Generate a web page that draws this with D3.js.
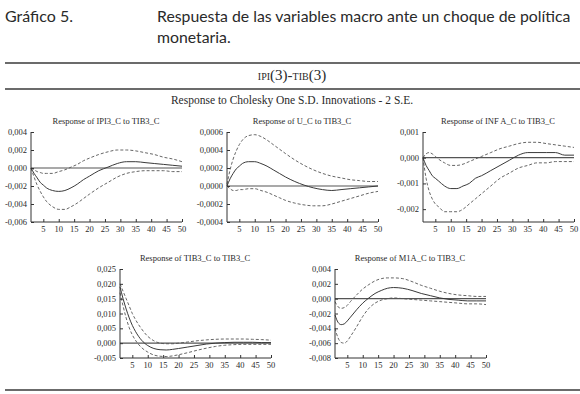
<!DOCTYPE html>
<html>
<head>
<meta charset="utf-8">
<script src="https://cdn.jsdelivr.net/npm/d3@7"></script>
<style>
  body { margin: 0; background: #fff; }
  svg text { fill: #2a2a2a; }
</style>
</head>
<body>
<div id="chart"></div>
<script>
const periods = [1, 2, 3, 4, 5, 6, 8, 10, 12, 14, 16, 18, 20, 23, 26, 29, 32, 35, 38, 41, 44, 47, 50];
const xTicks = [5, 10, 15, 20, 25, 30, 35, 40, 45, 50];

const titles = ['Response of IPI3_C to TIB3_C', 'Response of U_C to TIB3_C', 'Response of INF A_C to TIB3_C',
  'Response of TIB3_C to TIB3_C', 'Response of M1A_C to TIB3_C'];

// IPI3
const ipiResp  = [0, -0.0006, -0.0011, -0.0016, -0.0019, -0.0022, -0.0025, -0.0026, -0.0025, -0.0022, -0.0018, -0.0013, -0.0009, -0.0003, 0.0001, 0.0005, 0.0007, 0.0007, 0.0006, 0.0005, 0.0004, 0.0003, 0.0002];
const ipiUpper = [0, -0.0002, -0.0004, -0.0005, -0.0006, -0.0006, -0.0006, -0.0004, -0.0002, 0.0001, 0.0004, 0.0008, 0.0011, 0.0015, 0.0018, 0.0020, 0.0020, 0.0019, 0.0017, 0.0015, 0.0012, 0.0010, 0.0007];
const ipiLower = [0, -0.0010, -0.0019, -0.0026, -0.0032, -0.0037, -0.0043, -0.0046, -0.0046, -0.0043, -0.0039, -0.0034, -0.0029, -0.0022, -0.0016, -0.0010, -0.0006, -0.0004, -0.0003, -0.0003, -0.0003, -0.0004, -0.0004];
const ipiTicks = [-0.006, -0.004, -0.002, 0, 0.002, 0.004];

// U
const uResp  = [0, 0.00008, 0.00014, 0.00019, 0.00022, 0.00025, 0.00027, 0.00027, 0.00025, 0.00022, 0.00018, 0.00014, 0.00010, 0.00005, 0.00001, -0.00002, -0.00004, -0.00005, -0.00004, -0.00003, -0.00002, -0.00001, 0];
const uUpper = [0.00002, 0.00018, 0.00030, 0.00039, 0.00046, 0.00051, 0.00056, 0.00057, 0.00055, 0.00051, 0.00046, 0.00041, 0.00036, 0.00029, 0.00023, 0.00018, 0.00014, 0.00011, 0.00009, 0.00007, 0.00006, 0.00005, 0.00005];
const uLower = [0, -0.00003, -0.00005, -0.00005, -0.00004, -0.00004, -0.00003, -0.00003, -0.00005, -0.00007, -0.00010, -0.00013, -0.00016, -0.00019, -0.00021, -0.00022, -0.00022, -0.00020, -0.00017, -0.00014, -0.00011, -0.00008, -0.00006];
const uTicks = [-0.0004, -0.0002, 0, 0.0002, 0.0004, 0.0006];

// INF A
const infResp  = [0, -0.0003, -0.0005, -0.0007, -0.0008, -0.0009, -0.0011, -0.0012, -0.0012, -0.0011, -0.0010, -0.0008, -0.0007, -0.0005, -0.0003, -0.0001, 0.0001, 0.0002, 0.0002, 0.0002, 0.0002, 0.0001, 0.0001];
const infUpper = [0, 0.00015, 0.0002, 0.00015, 0.00005, -0.00005, -0.0002, -0.0003, -0.0003, -0.00025, -0.00015, -0.00005, 0.00005, 0.0002, 0.00035, 0.00045, 0.00055, 0.0006, 0.0006, 0.00055, 0.0005, 0.00045, 0.0004];
const infLower = [0, -0.0008, -0.0013, -0.0016, -0.0018, -0.0019, -0.0021, -0.0021, -0.0021, -0.0020, -0.0018, -0.0016, -0.0014, -0.0011, -0.0008, -0.0006, -0.0004, -0.0003, -0.0002, -0.0002, -0.00015, -0.00015, -0.00015];
const infTicks = [-0.002, -0.001, 0, 0.001];

// TIB3
const tibResp  = [0.0190, 0.0150, 0.0115, 0.0085, 0.0060, 0.0040, 0.0010, -0.0008, -0.0018, -0.0022, -0.0023, -0.0021, -0.0018, -0.0013, -0.0008, -0.0003, 0, 0.0002, 0.0003, 0.0003, 0.0003, 0.0002, 0.0002];
const tibUpper = [0.0200, 0.0175, 0.0150, 0.0125, 0.0100, 0.0080, 0.0048, 0.0023, 0.0008, 0, -0.0002, -0.0002, 0, 0.0004, 0.0008, 0.0011, 0.0013, 0.0014, 0.0014, 0.0014, 0.0013, 0.0012, 0.0010];
const tibLower = [0.0170, 0.0125, 0.0085, 0.0052, 0.0028, 0.0010, -0.0015, -0.0030, -0.0040, -0.0044, -0.0045, -0.0043, -0.0039, -0.0032, -0.0024, -0.0017, -0.0011, -0.0007, -0.0005, -0.0004, -0.0004, -0.0004, -0.0004];
const tibTicks = [-0.005, 0, 0.005, 0.010, 0.015, 0.020, 0.025];

// M1A
const m1Resp  = [-0.0022, -0.0032, -0.0035, -0.0034, -0.0030, -0.0025, -0.0015, -0.0006, 0.0001, 0.0007, 0.0011, 0.0014, 0.0015, 0.0014, 0.0011, 0.0007, 0.0004, 0.0001, -0.0001, -0.0002, -0.0003, -0.0003, -0.0003];
const m1Upper = [-0.0004, -0.0011, -0.0013, -0.0012, -0.0009, -0.0004, 0.0005, 0.0013, 0.0019, 0.0024, 0.0027, 0.0028, 0.0028, 0.0027, 0.0023, 0.0018, 0.0014, 0.0010, 0.0007, 0.0005, 0.0004, 0.0003, 0.0003];
const m1Lower = [-0.0040, -0.0053, -0.0059, -0.0060, -0.0057, -0.0051, -0.0038, -0.0024, -0.0013, -0.0006, -0.0002, 0, 0.0001, 0, -0.0001, -0.0002, -0.0003, -0.0004, -0.0005, -0.0006, -0.0007, -0.0007, -0.0008];
const m1Ticks = [-0.008, -0.006, -0.004, -0.002, 0, 0.002, 0.004];

const W = 580, H = 394;
const svg = d3.select('#chart').append('svg').attr('width', W).attr('height', H)
  .style('font-family', '"Liberation Serif", "Times New Roman", serif');

const loc = d3.formatLocale({ decimal: ',', thousands: '.', grouping: [3], currency: ['', ''], minus: '-' });

// header
const sans = 'Lato, "Noto Sans", sans-serif';
svg.append('text').attr('x', 5).attr('y', 22).style('font-family', sans).style('font-size', '16px')
  .text('Gráfico 5.');
svg.append('text').attr('x', 157).attr('y', 22).style('font-family', sans).style('font-size', '15.8px')
  .text('Respuesta de las variables macro ante un choque de política');
svg.append('text').attr('x', 157).attr('y', 43).style('font-family', sans).style('font-size', '15.8px')
  .text('monetaria.');

const rule = y => svg.append('line').attr('x1', 5).attr('x2', 580).attr('y1', y).attr('y2', y)
  .attr('stroke', '#3a3a3a').attr('stroke-width', 1.5);
rule(63); rule(89); rule(390);

const sub = svg.append('text').attr('x', 292).attr('y', 80).attr('text-anchor', 'middle');
sub.append('tspan').style('font-size', '10px').text('IPI');
sub.append('tspan').style('font-size', '15px').text('(3)-');
sub.append('tspan').style('font-size', '10px').text('TIB');
sub.append('tspan').style('font-size', '15px').text('(3)');

svg.append('text').attr('x', 292).attr('y', 104).attr('text-anchor', 'middle').style('font-size', '11.5px')
  .text('Response to Cholesky One S.D. Innovations - 2 S.E.');

const panels = [
  { title: titles[0], resp: ipiResp, upper: ipiUpper, lower: ipiLower, ticks: ipiTicks, fmt: ',.3f', x0: 31, y0: 132, y1: 222 },
  { title: titles[1], resp: uResp, upper: uUpper, lower: uLower, ticks: uTicks, fmt: ',.4f', x0: 227, y0: 132, y1: 222 },
  { title: titles[2], resp: infResp, upper: infUpper, lower: infLower, ticks: infTicks, fmt: ',.3f', x0: 423, y0: 132, y1: 222, dom: [-0.0025, 0.001] },
  { title: titles[3], resp: tibResp, upper: tibUpper, lower: tibLower, ticks: tibTicks, fmt: ',.3f', x0: 120, y0: 269, y1: 358 },
  { title: titles[4], resp: m1Resp, upper: m1Upper, lower: m1Lower, ticks: m1Ticks, fmt: ',.3f', x0: 335, y0: 269, y1: 358 }
];

panels.forEach(p => {
  const x = d3.scaleLinear().domain([1, 50]).range([p.x0, p.x0 + 151]);
  const y = d3.scaleLinear().domain(p.dom || d3.extent(p.ticks)).range([p.y1, p.y0]);
  const g = svg.append('g');

  g.append('text').attr('x', p.x0 + 75).attr('y', p.y0 - 8).attr('text-anchor', 'middle')
    .style('font-size', '8.5px').text(p.title);

  const line = d3.line().x((d, i) => x(periods[i])).y(d => y(d)).curve(d3.curveMonotoneX);

  g.append('line').attr('x1', x(1)).attr('x2', x(50)).attr('y1', y(0)).attr('y2', y(0))
    .attr('stroke', '#555').attr('stroke-width', 1.2);

  g.append('path').attr('d', line(p.upper)).attr('fill', 'none').attr('stroke', '#555')
    .attr('stroke-width', 0.9).attr('stroke-dasharray', '3,2');
  g.append('path').attr('d', line(p.lower)).attr('fill', 'none').attr('stroke', '#555')
    .attr('stroke-width', 0.9).attr('stroke-dasharray', '3,2');
  g.append('path').attr('d', line(p.resp)).attr('fill', 'none').attr('stroke', '#3a3a3a')
    .attr('stroke-width', 1);

  const yAxis = g.append('g').attr('transform', `translate(${p.x0},0)`)
    .call(d3.axisRight(y).tickValues(p.ticks).tickSize(3).tickFormat(''));
  yAxis.select('.domain').attr('stroke', '#333').attr('d', `M0,${p.y0}V${p.y1}`);
  yAxis.selectAll('.tick line').attr('stroke', '#333');
  g.selectAll('.ylab').data(p.ticks).enter().append('text')
    .attr('x', p.x0 - 4).attr('y', d => y(d) + 3).attr('text-anchor', 'end')
    .style('font-size', '8.5px').text(d => loc.format(p.fmt)(d));

  const xAxis = g.append('g').attr('transform', `translate(0,${p.y1})`)
    .call(d3.axisTop(x).tickValues(xTicks).tickSize(3).tickFormat(''));
  xAxis.select('.domain').attr('stroke', '#333').attr('d', `M${p.x0},0H${x(50)}`);
  xAxis.selectAll('.tick line').attr('stroke', '#333');
  g.selectAll('.xlab').data(xTicks).enter().append('text')
    .attr('x', d => x(d)).attr('y', p.y1 + 10).attr('text-anchor', 'middle')
    .style('font-size', '8.5px').text(d => d);
});
</script>
</body>
</html>
